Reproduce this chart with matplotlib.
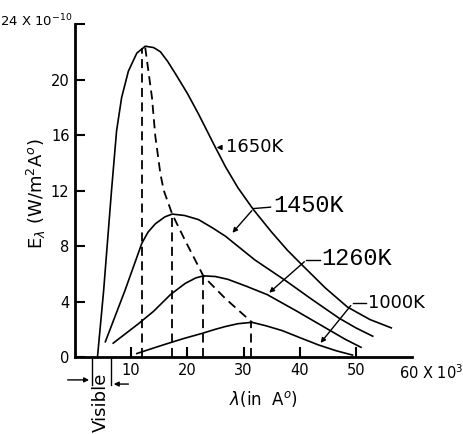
import matplotlib
matplotlib.use('Agg')
import matplotlib.pyplot as plt

# values: wavelength (x 10^3 A) and E (x 10^-10 W/m^2 A)
lam_1650 = [4.0, 5.1, 6.5, 7.4, 8.3, 9.5, 11.0, 12.5, 14.0, 15.2, 16.5, 17.9, 20.0, 22.0,
            25.0, 26.8, 29.0, 31.8, 35.0, 37.8, 40.5, 44.5, 48.5, 52.5, 56.3]
e_1650 = [0.0, 4.8, 12.0, 16.3, 18.7, 20.6, 21.9, 22.4, 22.3, 22.0, 21.3, 20.4, 19.0, 17.5,
          15.1, 13.7, 12.2, 10.6, 9.0, 7.7, 6.6, 5.0, 3.6, 2.7, 2.1]

lam_1450 = [5.4, 8.9, 11.9, 13.0, 14.3, 16.0, 17.3, 19.5, 22.0, 24.5, 26.8, 32.0, 37.5,
            42.0, 47.0, 50.0, 53.0]
e_1450 = [1.1, 4.8, 8.2, 9.0, 9.6, 10.1, 10.3, 10.2, 9.9, 9.3, 8.7, 7.0, 5.5,
          4.2, 2.8, 2.1, 1.5]

lam_1260 = [6.8, 11.3, 14.0, 17.0, 19.6, 21.5, 22.9, 25.0, 27.2, 30.5, 34.2, 39.5, 44.6, 48.0, 50.9]
e_1260 = [1.0, 2.4, 3.3, 4.5, 5.3, 5.7, 5.85, 5.8, 5.6, 5.1, 4.5, 3.3, 2.1, 1.3, 0.7]

lam_1000 = [11.0, 14.0, 16.7, 19.5, 22.6, 25.0, 26.8, 29.0, 31.5, 34.0, 36.9, 40.0, 43.4, 46.5, 49.4]
e_1000 = [0.25, 0.65, 1.0, 1.35, 1.7, 2.0, 2.2, 2.4, 2.5, 2.25, 1.9, 1.4, 0.86, 0.45, 0.14]

# dashed curve through the maxima
lam_peaks = [12.5, 13.7, 14.3, 15.2, 15.8, 17.3, 19.6, 22.9, 26.8, 31.5]
e_peaks = [22.3, 18.7, 15.9, 13.2, 12.0, 10.3, 8.4, 5.8, 4.2, 2.5]

# vertical dashed drops from each maximum
drop_lam = [12.0, 17.3, 22.8, 31.3]
drop_e = [22.3, 10.3, 5.85, 2.5]

x_ticks = [10, 20, 30, 40, 50]
x_labels = ['10', '20', '30', '40', '50']
y_ticks = [0, 4, 8, 12, 16, 20, 24]
y_labels = ['0', '4', '8', '12', '16', '20', '']

fig = plt.figure(figsize=(4.63, 4.34), dpi=100)
ax = fig.add_axes([0.162, 0.1774, 0.728, 0.7673])

for lam, e in [(lam_1650, e_1650), (lam_1450, e_1450), (lam_1260, e_1260), (lam_1000, e_1000)]:
    ax.plot(lam, e, color='black', lw=1.2)

ax.plot(lam_peaks, e_peaks, color='black', lw=1.3, dashes=(5, 3))
for x, top in zip(drop_lam, drop_e):
    ax.plot([x, x], [0, top], color='black', lw=1.3, dashes=(5, 3))

ax.set_xlim(0, 60)
ax.set_ylim(0, 24)
ax.set_xticks(x_ticks)
ax.set_xticklabels(x_labels)
ax.set_yticks(y_ticks)
ax.set_yticklabels(y_labels)
ax.tick_params(direction='in', length=7, width=1.5, pad=4, labelsize=10.5)
ax.spines['top'].set_visible(False)
ax.spines['right'].set_visible(False)
ax.spines['left'].set_linewidth(2)
ax.spines['bottom'].set_linewidth(2)

ax.text(-0.5, 24.2, r'24 X 10$^{-10}$', ha='right', va='center', fontsize=9.5, clip_on=False)
ax.text(57.6, -1.1, r'60 X 10$^3$', ha='left', va='center', fontsize=10.5, clip_on=False)
ax.set_ylabel(r'E$_\lambda$ (W/m$^2$A$^o$)', fontsize=13)
ax.yaxis.set_label_coords(-0.08, 0.49)
ax.text(33.5, -3.0, r'$\lambda$(in  A$^o$)', ha='center', va='center', fontsize=12, clip_on=False)

# temperature labels with leader lines
arr = dict(arrowstyle='-|>', color='black', lw=1, mutation_scale=7)
ax.annotate('1650K', xy=(24.7, 15.1), xytext=(26.8, 15.1), fontsize=13, va='center', arrowprops=arr)
mono = dict(family='Liberation Mono', fontsize=17, va='center')
ax.annotate('', xy=(27.7, 8.8), xytext=(31.8, 10.7), arrowprops=arr)
ax.plot([31.8, 34.8], [10.7, 10.8], color='black', lw=1)
ax.text(35.2, 10.9, '1450K', **mono)
ax.annotate('', xy=(34.2, 4.5), xytext=(41.2, 7.0), arrowprops=arr)
ax.plot([41.2, 43.6], [7.0, 7.0], color='black', lw=1)
ax.text(43.9, 7.1, '1260K', **mono)
ax.annotate('', xy=(43.4, 0.86), xytext=(49.4, 3.86), arrowprops=arr)
ax.plot([49.4, 51.8], [3.86, 3.86], color='black', lw=1)
ax.text(52.2, 3.9, '1000K', fontsize=13, va='center')

# visible band under the axis
ax.plot([3.0, 3.0], [0, -2.0], color='black', lw=1, clip_on=False)
ax.plot([6.4, 6.4], [0, -2.0], color='black', lw=1, clip_on=False)
ax.annotate('', xy=(3.0, -1.65), xytext=(-1.8, -1.65), arrowprops=arr, annotation_clip=False)
ax.annotate('', xy=(6.4, -1.95), xytext=(10.0, -1.95), arrowprops=arr, annotation_clip=False)
ax.text(4.6, -1.15, 'Visible', rotation=90, ha='center', va='top', fontsize=13, clip_on=False)

fig.savefig('out.png', dpi=100)
